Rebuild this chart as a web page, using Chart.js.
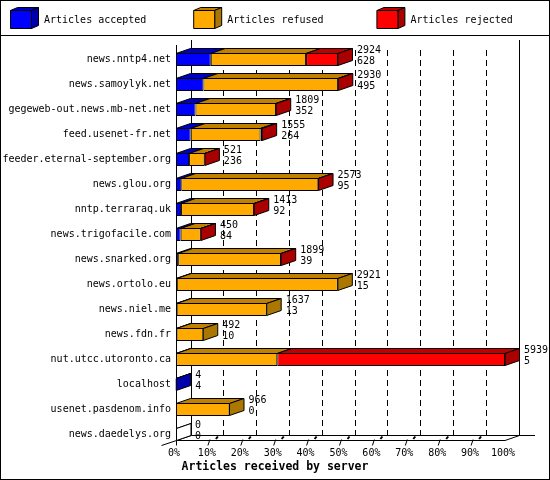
<!DOCTYPE html>
<html>
<head>
<meta charset="utf-8">
<title>Articles received by server</title>
<script src="https://cdn.jsdelivr.net/npm/chart.js@4"></script>
<style>
    html, body { margin: 0; padding: 0; background: #fff; }
    canvas { display: block; }
</style>
</head>
<body>
<canvas id="myChart" width="550" height="480"></canvas>
<script>
'use strict';

const servers = ['news.nntp4.net', 'news.samoylyk.net', 'gegeweb-out.news.mb-net.net', 'feed.usenet-fr.net',
    'feeder.eternal-september.org', 'news.glou.org', 'nntp.terraraq.uk', 'news.trigofacile.com',
    'news.snarked.org', 'news.ortolo.eu', 'news.niel.me', 'news.fdn.fr',
    'nut.utcc.utoronto.ca', 'localhost', 'usenet.pasdenom.info', 'news.daedelys.org'];
const totals = [2924, 2930, 1809, 1555, 521, 2573, 1413, 450, 1899, 2921, 1637, 492, 5939, 4, 966, 0];
const accepted = [628, 495, 352, 264, 236, 95, 92, 84, 39, 15, 13, 10, 5, 4, 0, 0];
const refused = [1720, 2431, 1454, 1261, 280, 2474, 1317, 363, 1857, 2906, 1624, 482, 1823, 0, 966, 0];
const rejected = [576, 4, 3, 30, 5, 4, 4, 3, 3, 0, 0, 0, 4111, 0, 0, 0];
const tickLabels = ['0%', '10%', '20%', '30%', '40%', '50%', '60%', '70%', '80%', '90%', '100%'];
const tickPercents = [0, 10, 20, 30, 40, 50, 60, 70, 80, 90, 100];
const seriesNames = ['Articles accepted', 'Articles refused', 'Articles rejected'];

const fronts = ['#0000ff', '#ffaa00', '#ff0000'];
const tops = ['#0000c0', '#c08000', '#c00000'];
const sides = ['#0000aa', '#aa7700', '#aa0000'];
const monoFont = '"DejaVu Sans Mono", monospace';

const depthX = 14.5;
const depthY = 5;

function line(ctx, x1, y1, x2, y2) {
    ctx.beginPath();
    ctx.moveTo(x1, y1);
    ctx.lineTo(x2, y2);
    ctx.stroke();
}

function face(ctx, points, color) {
    ctx.beginPath();
    points.forEach(function(p, i) {
        if (i === 0) ctx.moveTo(p[0], p[1]); else ctx.lineTo(p[0], p[1]);
    });
    ctx.closePath();
    ctx.fillStyle = color;
    ctx.fill();
    ctx.stroke();
}

/* frame, legend, back walls and dashed grid, all behind the bars */
const backdropPlugin = {
    id: 'backdrop',
    beforeDatasetsDraw(chart) {
        const ctx = chart.ctx;
        const x = chart.scales.x;
        const y = chart.scales.y;
        const left = Math.floor(x.getPixelForValue(0)) + 0.5;
        const right = x.getPixelForValue(x.max);
        const floor = y.getPixelForValue(servers.length - 1) + 6;
        const backFloor = floor - depthY;

        ctx.save();
        ctx.strokeStyle = '#000';
        ctx.lineWidth = 1;

        ctx.strokeRect(0.5, 0.5, 549, 479);
        line(ctx, 0, 35.5, 550, 35.5);

        // legend
        ctx.font = '10px ' + monoFont;
        ctx.textBaseline = 'middle';
        ctx.textAlign = 'left';
        seriesNames.forEach(function(name, i) {
            const bx = 10.5 + i * 183.2;
            const by = 10.5;
            face(ctx, [[bx, by], [bx + 7, by - 3], [bx + 28, by - 3], [bx + 21, by]], tops[i]);
            face(ctx, [[bx + 21, by], [bx + 28, by - 3], [bx + 28, by + 15], [bx + 21, by + 18]], sides[i]);
            face(ctx, [[bx, by], [bx + 21, by], [bx + 21, by + 18], [bx, by + 18]], fronts[i]);
            ctx.fillStyle = '#000';
            ctx.fillText(name, bx + 33.5, 20.5);
        });

        // walls
        line(ctx, left, 45, left, 445.5);
        line(ctx, left + 15, 40, left + 15, backFloor);
        line(ctx, 519.5, 40, 519.5, backFloor);
        line(ctx, left + 15, backFloor, 535, backFloor);
        line(ctx, left - 15, floor + depthY, left + 15, backFloor);
        line(ctx, left, floor, right, floor);
        line(ctx, right, floor, 519.5, backFloor);

        // dashed lines on the back wall and floor ticks
        tickPercents.slice(1, 10).forEach(function(p) {
            const tx = x.getPixelForValue(p / 100 * x.max);
            const gx = Math.floor(tx + depthX) + 0.5;
            ctx.setLineDash([6, 4]);
            line(ctx, gx, 50, gx, backFloor);
            ctx.setLineDash([]);
            line(ctx, tx - 1, floor + 5, tx + 1, floor - 1);
            ctx.lineWidth = 2;
            line(ctx, tx + 7, floor - 1.5, tx + 9, floor - 4);
            ctx.lineWidth = 1;
        });

        // top and side faces of each bar
        servers.forEach(function(server, row) {
            const cy = y.getPixelForValue(row);
            const t = cy - 6;
            const b = cy + 6;
            let lastEnd = left;
            let lastSeries = -1;
            chart.data.datasets.forEach(function(ds, i) {
                const bar = chart.getDatasetMeta(i).data[row];
                if (ds.data[row] > 0) {
                    face(ctx, [[bar.base, t], [bar.base + depthX, t - depthY], [bar.x + depthX, t - depthY], [bar.x, t]], tops[i]);
                    lastEnd = bar.x;
                    lastSeries = i;
                }
            });
            if (lastSeries < 0) {
                line(ctx, lastEnd, t, lastEnd + depthX, t - depthY);
            }
            face(ctx, [[lastEnd, t], [lastEnd + depthX, t - depthY], [lastEnd + depthX, b - depthY], [lastEnd, b]],
                lastSeries < 0 ? '#fff' : sides[lastSeries]);
        });
        ctx.restore();
    },
    // the two counts next to each bar
    afterDraw(chart) {
        const ctx = chart.ctx;
        const x = chart.scales.x;
        const y = chart.scales.y;
        ctx.save();
        ctx.font = '10px ' + monoFont;
        ctx.fillStyle = '#000';
        ctx.textAlign = 'left';
        ctx.textBaseline = 'middle';
        servers.forEach(function(server, row) {
            const lx = x.getPixelForValue(totals[row]) + 19;
            const cy = y.getPixelForValue(row);
            ctx.fillText(totals[row], lx, cy - 9.5);
            ctx.fillText(accepted[row], lx, cy + 1.5);
        });
        ctx.restore();
    }
};

Chart.defaults.color = '#000';

const chart = new Chart(document.getElementById('myChart').getContext('2d'), {
    type: 'bar',
    plugins: [backdropPlugin],
    data: {
        labels: servers,
        datasets: [accepted, refused, rejected].map(function(values, i) {
            return {
                label: seriesNames[i],
                data: values,
                backgroundColor: fronts[i],
                borderColor: '#000',
                borderWidth: function(c) { return c.raw > 0 ? 1 : 0; },
                borderSkipped: false,
                barThickness: 13,
                inflateAmount: 0
            };
        })
    },
    options: {
        indexAxis: 'y',
        responsive: false,
        animation: false,
        devicePixelRatio: 1,
        layout: { padding: { top: 47, right: 0, left: 0, bottom: 0 } },
        plugins: {
            legend: { display: false },
            tooltip: { enabled: false },
            title: {
                display: true,
                position: 'bottom',
                text: 'Articles received by server',
                color: '#000',
                font: { family: monoFont, size: 11.5, weight: 'bold' },
                padding: { top: 0, bottom: 6.2 }
            }
        },
        scales: {
            x: {
                stacked: true,
                min: 0,
                max: Math.max.apply(null, totals),
                grid: { display: false, drawTicks: false },
                border: { display: false },
                afterBuildTicks(scale) {
                    scale.ticks = tickPercents.map(function(p) { return { value: p / 100 * scale.max }; });
                },
                afterFit(scale) { scale.height = 13; },
                ticks: {
                    autoSkip: false,
                    maxRotation: 0,
                    padding: 0,
                    labelOffset: -2,
                    font: { family: monoFont, size: 10 },
                    callback(value, index) { return tickLabels[index]; }
                }
            },
            y: {
                stacked: true,
                grid: { display: false, drawTicks: false },
                border: { display: false },
                afterFit(scale) { scale.width = 176; },
                ticks: {
                    autoSkip: false,
                    padding: 5,
                    font: { family: monoFont, size: 10 }
                }
            },
            // empty axis that keeps the room right of the plot, so the title stays centred on the page
            spacer: {
                type: 'linear',
                position: 'right',
                grid: { display: false, drawTicks: false },
                border: { display: false },
                ticks: { display: false },
                afterFit(scale) { scale.width = 45; }
            }
        }
    }
});
</script>
</body>
</html>
